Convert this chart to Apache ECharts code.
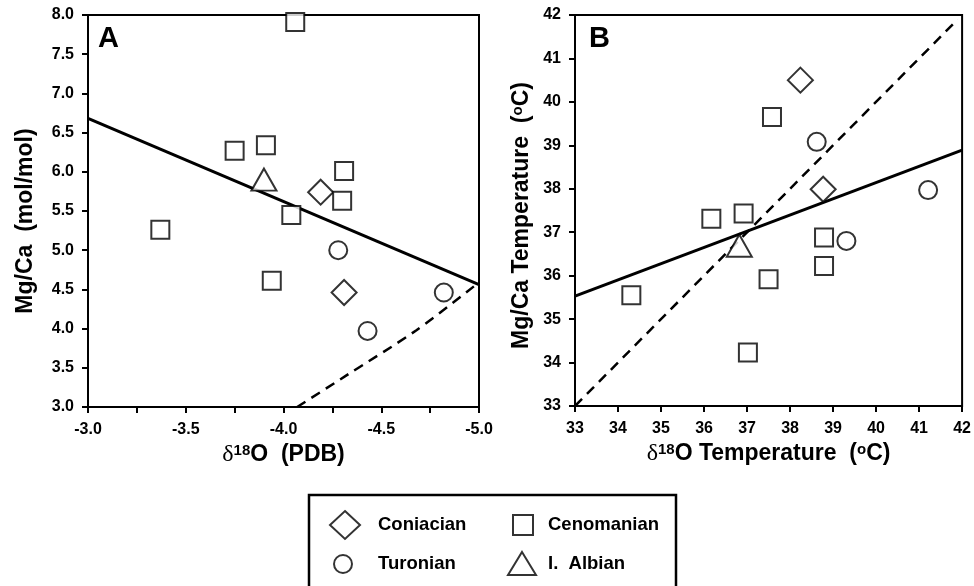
<!DOCTYPE html>
<html>
<head>
<meta charset="utf-8">
<script src="https://cdn.jsdelivr.net/npm/echarts@6/dist/echarts.min.js"></script>
<style>
  html, body { margin: 0; padding: 0; background: #fff; }
  #chart { width: 974px; height: 586px; }
</style>
</head>
<body>
<div id="chart"></div>
<script>
// ---- panel A: delta18O (PDB) vs Mg/Ca ----
const conA_x = [-4.19, -4.31];
const conA_y = [5.74, 4.46];
const cenA_x = [-4.06, -3.75, -3.91, -4.31, -4.30, -4.04, -3.37, -3.94];
const cenA_y = [7.91, 6.27, 6.34, 6.01, 5.63, 5.45, 5.26, 4.61];
const turA_x = [-4.28, -4.43, -4.82];
const turA_y = [5.00, 3.97, 4.46];
const albA_x = [-3.90];
const albA_y = [5.90];
const fitA_x = [-3.0, -5.0];
const fitA_y = [6.68, 4.56];
const curveA_x = [-4.07, -4.32, -4.68, -5.0];
const curveA_y = [3.0, 3.40, 3.98, 4.59];

// ---- panel B: delta18O temperature vs Mg/Ca temperature ----
const conB_x = [38.24, 38.77];
const conB_y = [40.50, 37.99];
const cenB_x = [37.58, 36.17, 36.92, 38.79, 38.79, 37.50, 34.31, 37.02];
const cenB_y = [39.65, 37.31, 37.43, 36.88, 36.22, 35.92, 35.55, 34.23];
const turB_x = [38.62, 39.31, 41.21];
const turB_y = [39.08, 36.80, 37.97];
const albB_x = [36.82];
const albB_y = [36.69];
const fitB_x = [33, 42];
const fitB_y = [35.53, 38.89];
const oneB_x = [33, 41.9];
const oneB_y = [33, 41.9];

const groups = ['Coniacian', 'Cenomanian', 'Turonian', 'I.  Albian'];
const xTicksA = { min: -5, max: -3, step: 0.25 };
const yTicksA = { min: 3, max: 8, step: 0.5 };
const ticksB = { min: 33, max: 42, step: 1 };

const FONT = '"Liberation Sans", Arial, sans-serif';
const SERIF = '"Liberation Serif", "Times New Roman", serif';

function pairs(xs, ys) {
  return xs.map((x, i) => [x, ys[i]]);
}

const symbols = {
  'Coniacian': { symbol: 'diamond', size: 25 },
  'Cenomanian': { symbol: 'rect', size: 18 },
  'Turonian': { symbol: 'circle', size: 18 },
  'I.  Albian': { symbol: 'triangle', size: [25, 22] }
};

const markerStyle = { color: '#fff', borderColor: '#000', borderWidth: 2 };

function scatter(name, xs, ys, idx) {
  return {
    name: name,
    type: 'scatter',
    xAxisIndex: idx,
    yAxisIndex: idx,
    symbol: symbols[name].symbol,
    symbolSize: symbols[name].size,
    itemStyle: markerStyle,
    emphasis: { disabled: true },
    z: 5,
    data: pairs(xs, ys)
  };
}

function line(xs, ys, idx, dashed, smooth) {
  return {
    type: 'line',
    xAxisIndex: idx,
    yAxisIndex: idx,
    showSymbol: false,
    silent: true,
    smooth: smooth || false,
    lineStyle: {
      color: '#000',
      width: dashed ? 2.5 : 3,
      type: dashed ? [10, 7] : 'solid'
    },
    z: 2,
    data: pairs(xs, ys)
  };
}

const tickLabel = { color: '#000', fontFamily: FONT, fontWeight: 'bold', fontSize: 16 };
const axisLine = { show: true, lineStyle: { color: '#000', width: 2 } };
const axisTick = { show: true, length: 6, lineStyle: { color: '#000', width: 2 } };
const richName = {
  d: { fontFamily: SERIF, fontWeight: 'normal', fontSize: 24, color: '#000' },
  s: { fontFamily: FONT, fontWeight: 'bold', fontSize: 15, color: '#000', padding: [0, 0, 9, 0] },
  n: { fontFamily: FONT, fontWeight: 'bold', fontSize: 23, color: '#000' }
};
function nameStyle(pad) {
  return {
    color: '#000', fontFamily: FONT, fontWeight: 'bold', fontSize: 23,
    padding: pad || 0,
    rich: richName
  };
}

// legend: one component per group so each icon keeps its own size
const legendSpots = [
  { name: 'Coniacian', left: 329, top: 510, w: 30, h: 28, pad: 13 },
  { name: 'Cenomanian', left: 512, top: 514, w: 20, h: 20, pad: 10 },
  { name: 'Turonian', left: 333, top: 554, w: 18, h: 18, pad: 21 },
  { name: 'I.  Albian', left: 507, top: 551, w: 28, h: 23, pad: 7 }
];

const chart = echarts.init(document.getElementById('chart'));
chart.setOption({
  animation: false,
  backgroundColor: '#fff',
  title: [
    { text: 'A', left: 98, top: 24, padding: 0,
      textStyle: { fontFamily: FONT, fontWeight: 'bold', fontSize: 29, color: '#000' } },
    { text: 'B', left: 589, top: 24, padding: 0,
      textStyle: { fontFamily: FONT, fontWeight: 'bold', fontSize: 29, color: '#000' } }
  ],
  legend: legendSpots.map(l => ({
    data: [l.name],
    left: l.left,
    top: l.top,
    padding: 0,
    itemWidth: l.w,
    itemHeight: l.h,
    symbolKeepAspect: false,
    selectedMode: false,
    itemStyle: markerStyle,
    textStyle: { color: '#000', fontFamily: FONT, fontWeight: 'bold', fontSize: 18.5, padding: [0, 0, 0, l.pad] }
  })),
  graphic: [{
    type: 'rect',
    shape: { x: 309, y: 495, width: 367, height: 100 },
    style: { fill: 'none', stroke: '#000', lineWidth: 2.5 },
    silent: true
  }],
  grid: [
    { left: 88, top: 15, width: 391, height: 392, show: true, borderColor: '#000', borderWidth: 2 },
    { left: 575, top: 15, width: 390, height: 391, show: true, borderColor: '#000', borderWidth: 2 }
  ],
  xAxis: [
    {
      gridIndex: 0, type: 'value', inverse: true,
      min: xTicksA.min, max: xTicksA.max, interval: xTicksA.step,
      name: '{d|δ}{s|18}{n|O  (PDB)}', nameLocation: 'middle', nameGap: 33,
      nameTextStyle: nameStyle(),
      axisLine: axisLine, axisTick: axisTick, splitLine: { show: false },
      axisLabel: Object.assign({ margin: 15, formatter: v => {
        const h = v * 2;
        return Math.abs(h - Math.round(h)) < 1e-6 ? v.toFixed(1) : '';
      } }, tickLabel)
    },
    {
      gridIndex: 1, type: 'value',
      min: ticksB.min, max: ticksB.max, interval: ticksB.step,
      name: '{d|δ}{s|18}{n|O Temperature  (}{s|o}{n|C)}', nameLocation: 'middle', nameGap: 33,
      nameTextStyle: nameStyle(),
      axisLine: axisLine, axisTick: axisTick, splitLine: { show: false },
      axisLabel: Object.assign({ margin: 15 }, tickLabel)
    }
  ],
  yAxis: [
    {
      gridIndex: 0, type: 'value',
      min: yTicksA.min, max: yTicksA.max, interval: yTicksA.step,
      name: 'Mg/Ca  (mol/mol)', nameLocation: 'middle', nameGap: 51,
      nameTextStyle: nameStyle([0, 20, 0, 0]),
      axisLine: axisLine, axisTick: axisTick, splitLine: { show: false },
      axisLabel: Object.assign({ margin: 14, formatter: v => v.toFixed(1) }, tickLabel)
    },
    {
      gridIndex: 1, type: 'value',
      min: ticksB.min, max: ticksB.max, interval: ticksB.step,
      name: '{n|Mg/Ca Temperature  (}{s|o}{n|C)}', nameLocation: 'middle', nameGap: 41,
      nameTextStyle: nameStyle([0, 10, 0, 0]),
      axisLine: axisLine, axisTick: axisTick, splitLine: { show: false },
      axisLabel: Object.assign({ margin: 14 }, tickLabel)
    }
  ],
  series: [
    line(fitA_x, fitA_y, 0, false),
    line(curveA_x, curveA_y, 0, true, 0.3),
    scatter('Coniacian', conA_x, conA_y, 0),
    scatter('Cenomanian', cenA_x, cenA_y, 0),
    scatter('Turonian', turA_x, turA_y, 0),
    scatter('I.  Albian', albA_x, albA_y, 0),
    line(fitB_x, fitB_y, 1, false),
    line(oneB_x, oneB_y, 1, true),
    scatter('Coniacian', conB_x, conB_y, 1),
    scatter('Cenomanian', cenB_x, cenB_y, 1),
    scatter('Turonian', turB_x, turB_y, 1),
    scatter('I.  Albian', albB_x, albB_y, 1)
  ]
});
</script>
</body>
</html>
